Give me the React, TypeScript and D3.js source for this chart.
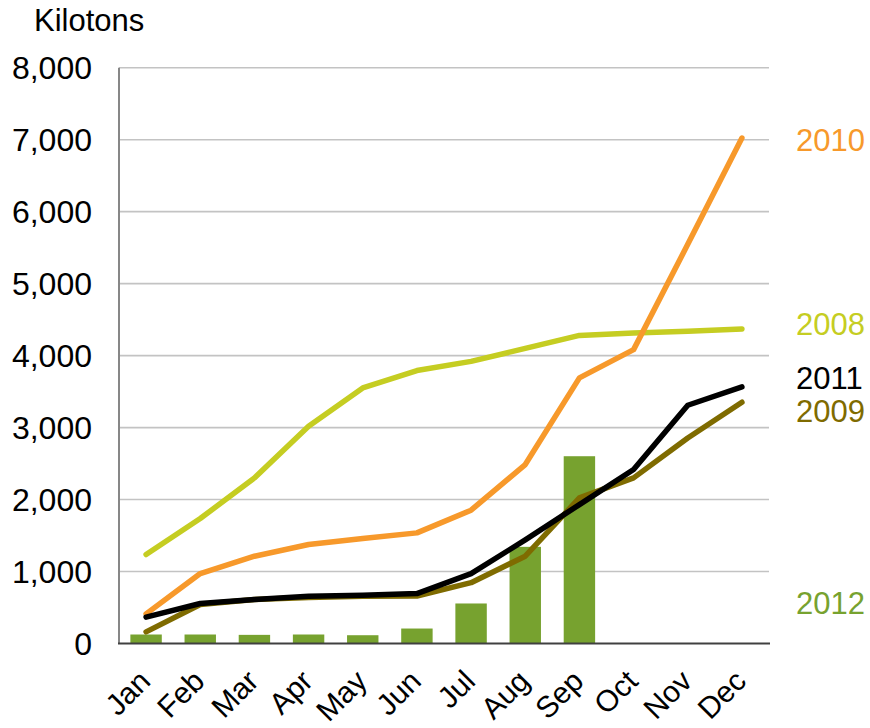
import React from "react";
import * as d3 from "d3";

const months = ["Jan", "Feb", "Mar", "Apr", "May", "Jun", "Jul", "Aug", "Sep", "Oct", "Nov", "Dec"];
const yTicks = [0, 1000, 2000, 3000, 4000, 5000, 6000, 7000, 8000];

const s2008 = [1236, 1736, 2301, 3019, 3551, 3792, 3920, 4100, 4280, 4315, 4340, 4370];
const s2009 = [162, 542, 610, 640, 655, 660, 845, 1213, 2023, 2301, 2856, 3352];
const s2010 = [412, 972, 1213, 1375, 1458, 1537, 1852, 2486, 3690, 4083, 5546, 7023];
const s2011 = [366, 556, 611, 657, 671, 694, 970, 1440, 1930, 2417, 3310, 3565];
const s2012 = [125, 125, 120, 125, 115, 208, 556, 1343, 2602, null, null, null];

const lineSeries = [
  { name: "2008", values: s2008, color: "#C5CD22" },
  { name: "2009", values: s2009, color: "#7F6B00" },
  { name: "2010", values: s2010, color: "#F7992B" },
  { name: "2011", values: s2011, color: "#000000" },
];

// label placement (layout, in data units along the y scale)
const labelLayout = [
  { name: "2010", at: 7000, color: "#F7992B" },
  { name: "2008", at: 4440, color: "#C5CD22" },
  { name: "2011", at: 3690, color: "#000000" },
  { name: "2009", at: 3230, color: "#7F6B00" },
  { name: "2012", at: 570, color: "#77A22F" },
];

const W = 870;
const H = 728;
const FONT = "'Liberation Sans', Arial, Helvetica, sans-serif";

export default function App() {
  const x = d3.scaleBand<string>().domain(months).range([119, 769]).padding(0);
  const y = d3.scaleLinear().domain([0, 8000]).range([643.5, 67.7]);
  const bw = x.bandwidth();
  const cx = (m: string) => (x(m) as number) + bw / 2;
  const barW = bw * 0.58;

  const line = d3
    .line<number>()
    .x((_, i) => cx(months[i]))
    .y((v) => y(v));

  return (
    <svg
      width={W}
      height={H}
      style={{ position: "absolute", left: 0, top: 0, background: "#fff" }}
      fontFamily={FONT}
    >
      {/* gridlines */}
      {yTicks.map((t) =>
        t === 0 ? null : (
          <line key={t} x1={119} x2={769} y1={y(t)} y2={y(t)} stroke="#C3C3C3" strokeWidth={1.6} />
        )
      )}
      {/* y tick labels */}
      {yTicks.map((t) => (
        <text key={"l" + t} x={92} y={y(t)} dy="0.36em" textAnchor="end" fontSize={32} fill="#000">
          {d3.format(",")(t)}
        </text>
      ))}
      <text x={34} y={31} fontSize={31} fill="#000">Kilotons</text>

      {/* bars 2012 */}
      {s2012.map((v, i) =>
        v == null ? null : (
          <rect
            key={"b" + i}
            x={cx(months[i]) - barW / 2}
            y={y(v)}
            width={barW}
            height={y(0) - y(v)}
            fill="#77A22F"
          />
        )
      )}

      {/* axes */}
      <line x1={119} x2={119} y1={y(8000)} y2={y(0)} stroke="#878787" strokeWidth={2} />
      <line x1={118} x2={770} y1={y(0)} y2={y(0)} stroke="#404040" strokeWidth={2} />

      {/* lines */}
      {lineSeries.map((s) => (
        <path
          key={s.name}
          d={line(s.values) || ""}
          fill="none"
          stroke={s.color}
          strokeWidth={5.5}
          strokeLinecap="round"
          strokeLinejoin="round"
        />
      ))}

      {/* month labels */}
      {months.map((m) => (
        <text
          key={m}
          transform={`translate(${cx(m) + 6},${683}) rotate(-45)`}
          textAnchor="end"
          fontSize={30}
          fill="#000"
        >
          {m}
        </text>
      ))}

      {/* series labels */}
      {labelLayout.map((l) => (
        <text key={l.name} x={796} y={y(l.at)} dy="0.36em" fontSize={31} fill={l.color}>
          {l.name}
        </text>
      ))}
    </svg>
  );
}
